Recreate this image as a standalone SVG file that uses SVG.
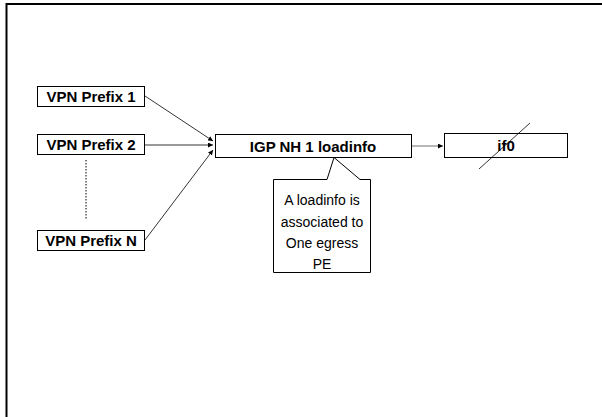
<svg xmlns="http://www.w3.org/2000/svg" width="602" height="417" viewBox="0 0 602 417">
<defs>
<style>
.box{fill:#fff;stroke:#000;stroke-width:1}
.lbl{font-family:"Liberation Sans",Arial,sans-serif;font-size:15px;font-weight:bold;text-anchor:middle;fill:#000}
.note{font-family:"Liberation Sans",Arial,sans-serif;font-size:14px;text-anchor:middle;fill:#000}
.conn{stroke:#000;stroke-width:0.8;fill:none}
</style>
<marker id="ah" viewBox="0 0 10 10" refX="10" refY="5" markerWidth="5" markerHeight="5" markerUnits="userSpaceOnUse" orient="auto">
<path d="M0,0 L10,5 L0,10 z" fill="#000"/>
</marker>
</defs>
<rect width="602" height="417" fill="#fff"/>
<path d="M6.5,417 V4 H602" fill="none" stroke="#000" stroke-width="2"/>
<g id="connectors">
<line class="conn" x1="145" y1="96" x2="213" y2="141" marker-end="url(#ah)"/>
<line class="conn" x1="145" y1="145" x2="213" y2="145" marker-end="url(#ah)"/>
<line class="conn" x1="145" y1="240" x2="213" y2="150" marker-end="url(#ah)"/>
<line x1="412" y1="146" x2="443" y2="146" stroke="#888" stroke-width="1.2" marker-end="url(#ah)"/>
<line x1="86" y1="160" x2="86" y2="220" stroke="#000" stroke-width="1" stroke-dasharray="1.5,1.5"/>
</g>
<g id="vpn1"><rect class="box" x="37.5" y="86.5" width="107" height="20"/><text class="lbl" x="91" y="101.5">VPN Prefix 1</text></g>
<g id="vpn2"><rect class="box" x="37.5" y="134.5" width="107" height="20"/><text class="lbl" x="91" y="149.5">VPN Prefix 2</text></g>
<g id="vpnN"><rect class="box" x="37.5" y="230.5" width="107" height="20"/><text class="lbl" x="91" y="245.5">VPN Prefix N</text></g>
<g id="igp"><rect class="box" x="215.5" y="134.5" width="196" height="23"/><text class="lbl" x="313" y="151.5">IGP NH 1 loadinfo</text></g>
<g id="if0"><rect class="box" x="444.5" y="133.5" width="123" height="24"/><text class="lbl" x="506" y="151">if0</text>
<line x1="479" y1="169" x2="530" y2="123" stroke="#000" stroke-width="0.8"/></g>
<g id="callout">
<path class="box" d="M273.5,179.5 H327 L334,157.5 L360,179.5 H370.5 V272.5 H273.5 Z"/>
<text class="note" x="322" y="205">A loadinfo is</text>
<text class="note" x="322" y="226.5">associated to</text>
<text class="note" x="322" y="248">One egress</text>
<text class="note" x="322" y="269">PE</text>
</g>
</svg>
